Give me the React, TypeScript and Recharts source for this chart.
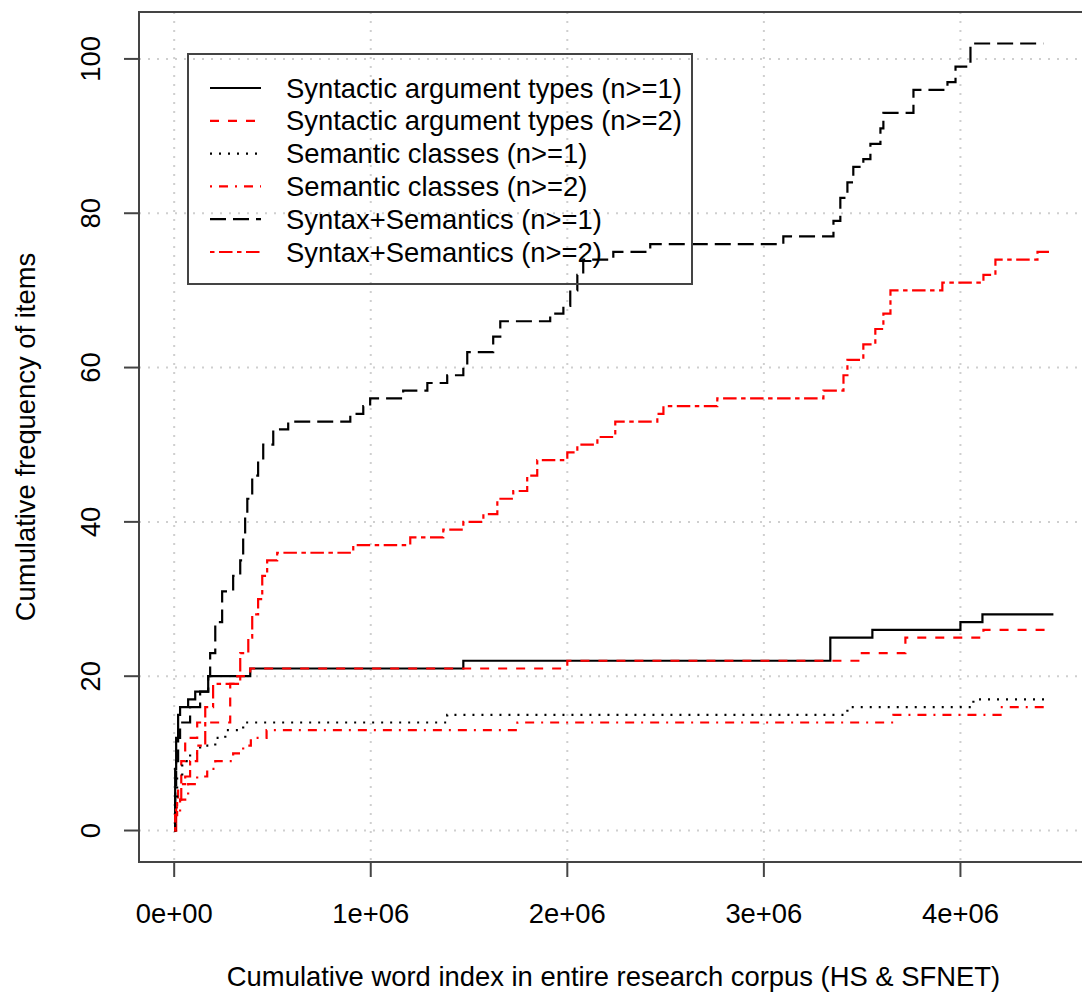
import React from "react";
import {
  LineChart,
  Line,
  XAxis,
  YAxis,
  CartesianGrid,
  ReferenceArea,
  Legend,
  Label,
} from "recharts";

// Cumulative counts: [word index, items seen so far]
const syntacticN1: [number, number][] = [
  [0, 0], [5000, 8], [10000, 12], [20000, 15], [30000, 16], [71000, 17],
  [107000, 18], [173000, 20], [387000, 21], [1471000, 22], [3338000, 25],
  [3552000, 26], [4000000, 27], [4112000, 28], [4473000, 28],
];

const syntacticN2: [number, number][] = [
  [0, 0], [10000, 3], [20000, 6], [36000, 9], [56000, 12], [117000, 14],
  [285000, 19], [321000, 20], [387000, 21], [2000000, 22], [3491000, 23],
  [3720000, 25], [4117000, 26], [4443000, 26],
];

const semanticN1: [number, number][] = [
  [0, 0], [5000, 4], [15000, 7], [41000, 9], [81000, 10], [132000, 11],
  [209000, 12], [260000, 13], [351000, 14], [1389000, 15], [3425000, 16],
  [4066000, 17], [4448000, 17],
];

const semanticN2: [number, number][] = [
  [0, 0], [10000, 2], [30000, 4], [71000, 6], [117000, 7], [168000, 8],
  [209000, 9], [300000, 10], [351000, 11], [390000, 12], [470000, 13],
  [1746000, 14], [3659000, 15], [4204000, 16], [4458000, 16],
];

const combinedN1: [number, number][] = [
  [0, 0], [5000, 5], [10000, 9], [20000, 12], [30000, 14], [81000, 16],
  [132000, 18], [173000, 20], [183000, 23], [209000, 27], [244000, 31],
  [300000, 33], [336000, 35], [351000, 38], [361000, 41], [372000, 43],
  [397000, 46], [427000, 48], [453000, 50], [504000, 52], [580000, 53],
  [896000, 54], [962000, 55], [997000, 56], [1165000, 57], [1288000, 58],
  [1389000, 59], [1471000, 60], [1491000, 62], [1623000, 64], [1659000, 66],
  [1913000, 67], [1980000, 68], [2015000, 70], [2051000, 72], [2081000, 74],
  [2234000, 75], [2422000, 76], [3099000, 77], [3354000, 79], [3389000, 82],
  [3425000, 84], [3455000, 86], [3506000, 87], [3542000, 89], [3593000, 91],
  [3608000, 93], [3761000, 96], [3934000, 97], [3975000, 99], [4051000, 102],
  [4422000, 102],
];

const combinedN2: [number, number][] = [
  [0, 0], [5000, 2], [15000, 4], [36000, 6], [56000, 7], [81000, 9],
  [117000, 11], [158000, 16], [198000, 19], [336000, 23], [377000, 25],
  [397000, 28], [427000, 30], [448000, 33], [473000, 35], [524000, 36],
  [911000, 37], [1201000, 38], [1369000, 39], [1471000, 40], [1573000, 41],
  [1644000, 43], [1725000, 44], [1796000, 46], [1847000, 48], [2000000, 49],
  [2051000, 50], [2153000, 51], [2244000, 53], [2458000, 54], [2489000, 55],
  [2763000, 56], [3303000, 57], [3405000, 59], [3425000, 61], [3506000, 63],
  [3567000, 65], [3608000, 67], [3644000, 70], [3908000, 71], [4117000, 72],
  [4178000, 74], [4392000, 75], [4468000, 75],
];

const X_TICKS = [0, 1000000, 2000000, 3000000, 4000000];
const Y_TICKS = [0, 20, 40, 60, 80, 100];
const X_MIN = -179000;
const X_MAX = 4649000;
const Y_MIN = -4.08;
const Y_MAX = 106.08;

const X_TITLE = "Cumulative word index in entire research corpus (HS & SFNET)";
const Y_TITLE = "Cumulative frequency of items";

const FONT = '"Liberation Sans", Arial, Helvetica, sans-serif';
const FONT_SIZE = 27.4;
const FRAME = "#444";

const series = [
  { name: "Syntactic argument types (n>=1)", data: syntacticN1, color: "#000", dash: undefined },
  { name: "Syntactic argument types (n>=2)", data: syntacticN2, color: "#ff0000", dash: "9 9" },
  { name: "Semantic classes (n>=1)", data: semanticN1, color: "#000", dash: "2 7" },
  { name: "Semantic classes (n>=2)", data: semanticN2, color: "#ff0000", dash: "2 7 9 7" },
  { name: "Syntax+Semantics (n>=1)", data: combinedN1, color: "#000", dash: "16 7" },
  { name: "Syntax+Semantics (n>=2)", data: combinedN2, color: "#ff0000", dash: "4.5 4.5 13.5 4.5" },
];

const toPoints = (pairs: [number, number][]) => pairs.map(([x, y]) => ({ x, y }));

const sci = (v: number) => (v === 0 ? "0e+00" : `${v / 1000000}e+06`);

const XTick = (props: any) => (
  <text x={props.x} y={923} textAnchor="middle" fontSize={FONT_SIZE} fontFamily={FONT} fill="#000">
    {sci(props.payload.value)}
  </text>
);

const YTick = (props: any) => (
  <text
    transform={`translate(100, ${props.y}) rotate(-90)`}
    textAnchor="middle"
    fontSize={FONT_SIZE}
    fontFamily={FONT}
    fill="#000"
  >
    {props.payload.value}
  </text>
);

const LegendBox = () => (
  <svg width={506} height={232} style={{ display: "block", overflow: "visible" }}>
    <rect x={1} y={1} width={504} height={230} fill="none" stroke={FRAME} strokeWidth={2} />
    {series.map((s, i) => {
      const cy = 35 + i * 32.8;
      return (
        <g key={s.name}>
          <line x1={23} x2={74} y1={cy} y2={cy} stroke={s.color} strokeWidth={2.2} strokeDasharray={s.dash} />
          <text x={99} y={cy + 9.5} fontSize={FONT_SIZE} fontFamily={FONT} fill="#000">
            {s.name}
          </text>
        </g>
      );
    })}
  </svg>
);

export default function App() {
  return (
    <div
      style={{
        position: "fixed",
        left: 0,
        top: 0,
        width: 1082,
        height: 994,
        overflow: "hidden",
        background: "#fff",
      }}
    >
      <LineChart width={1100} height={994} margin={{ top: 12, right: 12, bottom: 0, left: 0 }}>
        <CartesianGrid stroke="#cfcfcf" strokeWidth={2} strokeDasharray="2 7" />
        <XAxis
          dataKey="x"
          type="number"
          domain={[X_MIN, X_MAX]}
          ticks={X_TICKS}
          allowDataOverflow
          interval={0}
          height={132}
          tickSize={15}
          axisLine={false}
          tickLine={{ stroke: FRAME, strokeWidth: 2 }}
          tick={(p: any) => <XTick {...p} />}
        >
          <Label
            content={(p: any) => {
              const vb = p.viewBox || { x: 139, width: 949 };
              return (
                <text x={vb.x + vb.width / 2} y={986} textAnchor="middle" fontSize={FONT_SIZE} fontFamily={FONT} fill="#000">
                  {X_TITLE}
                </text>
              );
            }}
          />
        </XAxis>
        <YAxis
          type="number"
          domain={[Y_MIN, Y_MAX]}
          ticks={Y_TICKS}
          allowDataOverflow
          interval={0}
          width={139}
          tickSize={15}
          axisLine={false}
          tickLine={{ stroke: FRAME, strokeWidth: 2 }}
          tick={(p: any) => <YTick {...p} />}
        >
          <Label
            content={(p: any) => {
              const vb = p.viewBox || { y: 12, height: 850 };
              return (
                <text
                  transform={`translate(35, ${vb.y + vb.height / 2}) rotate(-90)`}
                  textAnchor="middle"
                  fontSize={FONT_SIZE}
                  fontFamily={FONT}
                  fill="#000"
                >
                  {Y_TITLE}
                </text>
              );
            }}
          />
        </YAxis>
        <ReferenceArea
          x1={X_MIN}
          x2={X_MAX}
          y1={Y_MIN}
          y2={Y_MAX}
          fill="none"
          stroke={FRAME}
          strokeWidth={2}
          ifOverflow="visible"
        />
        {series.map((s) => (
          <Line
            key={s.name}
            data={toPoints(s.data)}
            dataKey="y"
            name={s.name}
            type="stepAfter"
            stroke={s.color}
            strokeWidth={2.2}
            strokeDasharray={s.dash}
            dot={false}
            activeDot={false}
            isAnimationActive={false}
          />
        ))}
        <Legend
          layout="vertical"
          align="center"
          verticalAlign="middle"
          wrapperStyle={{ left: 187, top: 53, width: 506, height: 232 }}
          content={() => <LegendBox />}
        />
      </LineChart>
    </div>
  );
}
